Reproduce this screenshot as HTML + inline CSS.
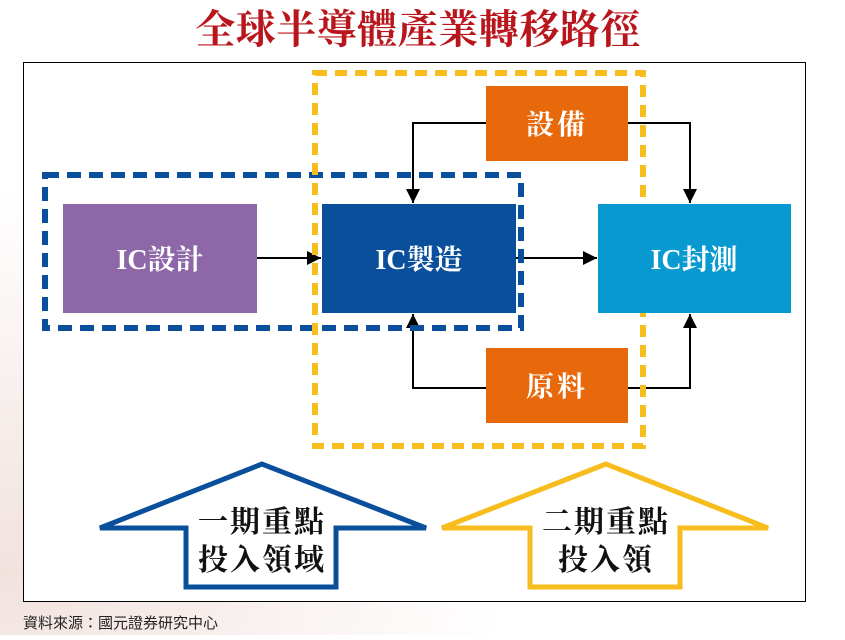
<!DOCTYPE html>
<html><head><meta charset="utf-8"><style>
html,body{margin:0;padding:0;background:#fff;}
body{width:845px;height:635px;overflow:hidden;}
text{font-family:"Liberation Serif","Noto Serif CJK SC",serif;}
</style></head><body>
<svg width="845" height="635" viewBox="0 0 845 635" xmlns="http://www.w3.org/2000/svg">
<defs>
<radialGradient id="bg" cx="0" cy="0.9" r="0.6"><stop offset="0" stop-color="#f1e2de"/><stop offset="1" stop-color="#ffffff"/></radialGradient>
<marker id="ah" markerWidth="16" markerHeight="16" refX="14" refY="7" orient="auto" markerUnits="userSpaceOnUse"><path d="M0,0 L14,7 L0,14 z" fill="#000"/></marker>
</defs>
<rect width="845" height="635" fill="url(#bg)"/>
<text x="418" y="43" text-anchor="middle" font-size="40" font-weight="bold" fill="#b8161c" letter-spacing="0.5">全球半導體產業轉移路徑</text>
<rect x="23.5" y="62.5" width="782" height="539" fill="#fff" stroke="#000" stroke-width="1"/>
<g stroke="#000" stroke-width="2" fill="none">
<polyline points="486,123 413,123 413,203" marker-end="url(#ah)"/>
<polyline points="628,123 690,123 690,203" marker-end="url(#ah)"/>
<polyline points="486,388 413,388 413,314" marker-end="url(#ah)"/>
<polyline points="628,388 690,388 690,314" marker-end="url(#ah)"/>
<line x1="257" y1="258" x2="321" y2="258" marker-end="url(#ah)"/>
<line x1="516" y1="258" x2="597" y2="258" marker-end="url(#ah)"/>
</g>
<rect x="45" y="175" width="476" height="153" fill="none" stroke="#0a4f9c" stroke-width="6" stroke-dasharray="14,8"/>
<rect x="315" y="73" width="328" height="373" fill="none" stroke="#f7bd1e" stroke-width="6" stroke-dasharray="12,8"/>
<rect x="63" y="204" width="194" height="109" fill="#8e67a8"/>
<rect x="322" y="204" width="194" height="109" fill="#0a4f9c"/>
<rect x="598" y="204" width="193" height="109" fill="#0799cf"/>
<rect x="486" y="86" width="142" height="75" fill="#e8690b"/>
<rect x="486" y="348" width="142" height="75" fill="#e8690b"/>
<g fill="#fff" font-size="28" font-weight="bold" text-anchor="middle">
<text x="160" y="269">IC設計</text>
<text x="419" y="269">IC製造</text>
<text x="694" y="269">IC封測</text>
<text x="557" y="134" letter-spacing="3">設備</text>
<text x="557" y="396" letter-spacing="3">原料</text>
</g>
<polygon points="262,464 100,528 186,528 186,587 336,587 336,528 426,528" fill="#fff" stroke="#0a4f9c" stroke-width="5"/>
<polygon points="606,464 442,528 530,528 530,587 680,587 680,528 768,528" fill="#fff" stroke="#f7bd1e" stroke-width="5"/>
<g fill="#111" font-size="30" font-weight="bold" text-anchor="middle" letter-spacing="2">
<text x="262" y="532">一期重點</text>
<text x="262" y="570">投入領域</text>
<text x="606" y="532">二期重點</text>
<text x="606" y="570">投入領</text>
</g>
<text x="23" y="628" font-size="15" fill="#222" style="font-family:'Liberation Sans','Noto Sans CJK TC',sans-serif">資料來源：國元證券研究中心</text>
</svg>
</body></html>
